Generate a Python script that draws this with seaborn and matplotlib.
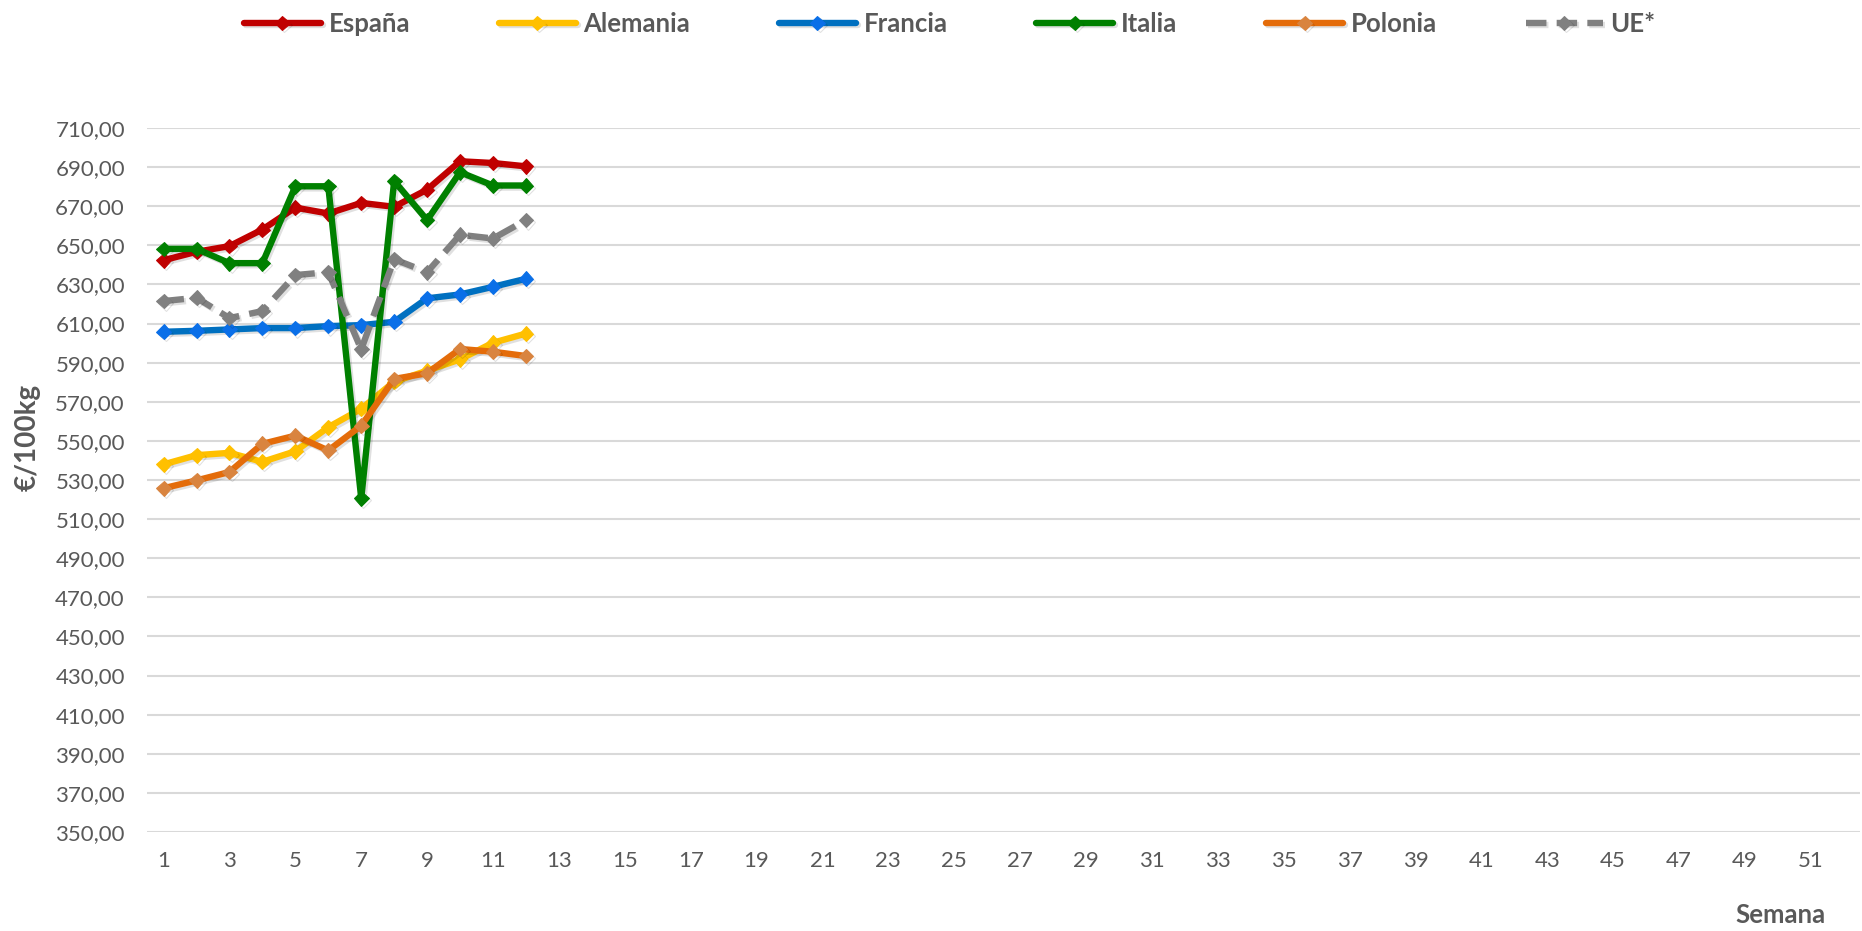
import numpy as np
import pandas as pd
import matplotlib
matplotlib.use("Agg")
import matplotlib.pyplot as plt
import matplotlib.patheffects as pe
from matplotlib.ticker import FuncFormatter
import seaborn as sns

# weekly prices, €/100kg (weeks 1-12)
semanas = list(range(1, 13))
espana = [642.4, 646.7, 649.6, 658.1, 669.3, 666.3, 671.7, 669.7, 678.5, 693.0, 692.1, 690.4]
alemania = [538.0, 542.7, 543.9, 539.3, 544.7, 557.0, 566.4, 580.3, 585.9, 591.7, 600.2, 604.9]
francia = [605.8, 606.3, 607.0, 607.7, 607.7, 608.7, 609.2, 610.9, 622.9, 624.9, 628.8, 632.9]
italia = [648.2, 648.2, 640.9, 640.9, 680.2, 680.2, 520.6, 682.9, 662.9, 687.4, 680.6, 680.6]
polonia = [525.8, 529.8, 534.1, 548.5, 552.7, 545.1, 557.8, 581.7, 584.6, 597.0, 595.6, 593.4]
ue = [621.5, 623.2, 612.8, 616.4, 634.8, 636.3, 596.8, 642.9, 636.3, 655.4, 653.5, 662.9]

series = {'España': espana, 'Alemania': alemania, 'Francia': francia,
          'Italia': italia, 'Polonia': polonia, 'UE*': ue}
# line colour, marker colour
colores = {'España': ('#C00000', '#C00000'),
           'Alemania': ('#FFC000', '#FFC000'),
           'Francia': ('#0070C0', '#0A6FE8'),
           'Italia': ('#008000', '#008000'),
           'Polonia': ('#E46C0A', '#D9843F'),
           'UE*': ('#808080', '#808080')}

sns.set_style("white")
plt.rcParams['font.family'] = ['Lato', 'DejaVu Sans']
gris = '#595959'

fig = plt.figure(figsize=(18.62, 9.31), dpi=100)
ax = fig.add_axes([0.079, 0.1063, 0.920, 0.7562])

sombra = [pe.SimpleLineShadow(offset=(1.5, -1.5), shadow_color='k', alpha=0.12), pe.Normal()]
for nombre, vals in series.items():
    lc, mc = colores[nombre]
    df = pd.DataFrame({'Semana': semanas, 'valor': vals})
    sns.lineplot(data=df, x='Semana', y='valor', ax=ax, color=lc, lw=4.6,
                 marker='D', markersize=7.5, markerfacecolor=mc, markeredgecolor=mc,
                 linestyle='--' if nombre == 'UE*' else '-',
                 dashes=False, label=nombre)
    ln = ax.lines[-1]
    ln.set_path_effects(sombra)
    if nombre == 'UE*':
        ln.set_dashes([3.2, 1.6])

ax.set_xlim(0.5, 52.5)
ax.set_ylim(350, 710)
ax.set_xticks(range(1, 52, 2))
ax.set_yticks(range(350, 711, 20))
ax.yaxis.set_major_formatter(FuncFormatter(lambda v, p: f'{v:.2f}'.replace('.', ',')))
ax.grid(axis='y', color='#D9D9D9', lw=1.5)
ax.grid(axis='x', visible=False)
for s in ax.spines.values():
    s.set_visible(False)
ax.tick_params(axis='both', length=0, labelsize=16, colors=gris)
ax.tick_params(axis='x', pad=14)
ax.tick_params(axis='y', pad=16)
ax.set_xlabel('')
ax.set_ylabel('')

fig.text(0.015, 0.53, '€/100kg', rotation=90, ha='center', va='center',
         fontsize=20, fontweight='bold', color=gris)
fig.text(0.956, 0.004, 'Semana', ha='center', va='bottom',
         fontsize=18.5, fontweight='bold', color=gris)

handles, labels = ax.get_legend_handles_labels()
ax.legend_.remove()
leg = fig.legend(handles, labels, loc='upper center', bbox_to_anchor=(0.51, 1.012),
                 ncol=6, frameon=False, fontsize=18.5, handlelength=3.0,
                 columnspacing=3.45, handletextpad=0.3)
for t in leg.get_texts():
    t.set_color(gris)
    t.set_fontweight('bold')

fig.savefig('out.png', dpi=100)
